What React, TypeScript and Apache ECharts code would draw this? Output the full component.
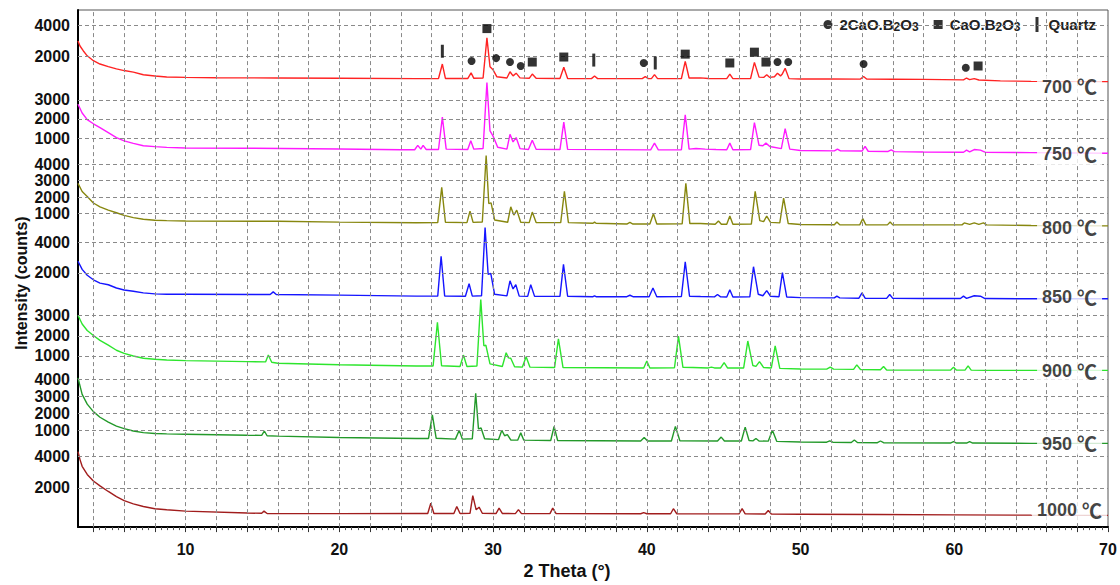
import React, { useEffect, useRef } from "react";
import * as echarts from "echarts";

// ---------- data (2θ in degrees, intensity in counts) ----------
const temperatures = ["700", "750", "800", "850", "900", "950", "1000"];

const t700: [number, number][] = [
  [3, 2990], [3.13, 2665], [3.35, 2340], [3.6, 2020], [4, 1700], [4.43, 1480], [4.97, 1310], [5.5, 1160], [6, 1050], [6.6, 950], [7.25, 775], [8, 690], [8.77, 625], [10, 600], [12, 580], [16, 560], [20, 540], [25, 520],
  [26.45, 525], [26.7, 1480], [26.9, 530], [28.35, 525], [28.57, 900], [28.75, 540],
  [29.35, 560], [29.6, 3200], [29.8, 1300], [30.0, 1100], [30.25, 640],
  [30.9, 560], [31.1, 970], [31.3, 700], [31.5, 880], [31.75, 570], [32.35, 540], [32.55, 820], [32.8, 540],
  [34.35, 530], [34.6, 1270], [34.85, 530], [36.4, 520], [36.6, 690], [36.8, 520],
  [39.7, 520], [39.9, 650], [40.1, 520], [40.3, 520], [40.5, 780], [40.7, 520],
  [42.25, 530], [42.5, 1660], [42.75, 560], [43.5, 570], [44, 530], [45.2, 520], [45.4, 820], [45.6, 520],
  [46.75, 530], [47.0, 1590], [47.3, 620], [47.6, 600], [47.8, 780], [48.0, 600], [48.3, 640], [48.5, 870], [48.7, 700], [48.8, 800], [49.0, 1200], [49.25, 520],
  [50, 500], [52, 500], [53.9, 490], [54.1, 660], [54.3, 490], [56, 480], [58, 470], [60.6, 440], [60.8, 560], [61.0, 450], [61.3, 520], [61.6, 430], [63, 370], [65, 340], [70, 320],
];
const t750: [number, number][] = [
  [3, 2770], [3.27, 2310], [3.6, 1965], [4, 1745], [4.43, 1540], [4.97, 1280], [5.5, 1025], [6, 855], [6.6, 720], [7.25, 600], [8, 550], [8.77, 510], [10, 480], [14, 470], [20, 430], [24, 390],
  [24.9, 390], [25.1, 615], [25.3, 420], [25.45, 615], [25.65, 400],
  [26.45, 400], [26.7, 2090], [26.95, 420], [28.35, 400], [28.55, 855], [28.75, 420],
  [29.35, 450], [29.6, 3900], [29.8, 1370], [30.0, 1100], [30.3, 520],
  [30.9, 420], [31.1, 1195], [31.3, 800], [31.5, 1025], [31.75, 450], [32.3, 400], [32.55, 890], [32.8, 410],
  [34.35, 400], [34.6, 1830], [34.85, 410], [40.25, 380], [40.5, 735], [40.75, 380],
  [42.25, 390], [42.5, 2220], [42.75, 420], [43.2, 450], [43.8, 420], [44.5, 400], [45.2, 390], [45.4, 735], [45.6, 390],
  [46.75, 400], [47.0, 1810], [47.3, 620], [47.55, 600], [47.75, 735], [48.0, 560], [48.75, 450], [49.0, 1490], [49.3, 420],
  [50, 350], [52.2, 330], [52.4, 420], [52.6, 330], [54.0, 320], [54.2, 560], [54.4, 310], [55.7, 300], [55.9, 380], [56.1, 290],
  [58, 270], [60.6, 260], [60.8, 370], [61.0, 280], [61.3, 400], [61.7, 370], [62, 260], [65, 240], [70, 205],
];
const t800: [number, number][] = [
  [3, 2830], [3.27, 2335], [3.6, 2035], [4, 1635], [4.43, 1395], [4.97, 1200], [5.5, 1040], [6, 880], [6.6, 740], [7.25, 640], [8, 580], [8.77, 560], [10, 540], [16, 520], [20, 470], [25, 430],
  [26.4, 440], [26.66, 2590], [26.9, 460], [28.3, 440], [28.5, 1140], [28.7, 450],
  [29.3, 480], [29.55, 4530], [29.72, 1600], [29.87, 1640], [30.1, 600],
  [30.95, 460], [31.15, 1400], [31.35, 900], [31.54, 1200], [31.8, 460], [32.35, 440], [32.55, 1080], [32.8, 440],
  [34.4, 440], [34.64, 2340], [34.9, 440], [36.5, 400], [36.6, 470], [36.7, 400], [38.7, 350], [38.9, 450], [39.1, 350],
  [40.2, 350], [40.43, 980], [40.65, 350], [42.3, 360], [42.54, 2830], [42.8, 380], [43.5, 380],
  [44.45, 340], [44.66, 540], [44.85, 340], [45.2, 340], [45.4, 840], [45.6, 340],
  [46.8, 350], [47.05, 2340], [47.35, 560], [47.6, 500], [47.8, 840], [48.05, 450], [48.65, 420], [48.9, 1930], [49.2, 380],
  [50, 320], [52.2, 310], [52.36, 480], [52.55, 310], [53.85, 300], [54.05, 680], [54.25, 300], [55.65, 300], [55.83, 480], [56.0, 300],
  [58, 300], [60.5, 300], [60.65, 420], [61.0, 330], [61.3, 420], [61.6, 330], [61.9, 420], [62.1, 300], [65, 260], [70, 240],
];
const t850: [number, number][] = [
  [3, 2770], [3.27, 2235], [3.6, 1850], [4, 1550], [4.43, 1335], [4.97, 1225], [5.5, 1010], [6, 880], [6.6, 795], [7.25, 690], [8, 625], [8.77, 600], [10, 600], [15.5, 580], [15.7, 755], [15.9, 580], [20, 540], [25, 480],
  [26.4, 480], [26.62, 3100], [26.85, 490], [28.2, 470], [28.44, 1290], [28.65, 480],
  [29.25, 500], [29.48, 4990], [29.68, 1900], [29.85, 1980], [30.1, 600],
  [30.9, 490], [31.1, 1480], [31.3, 950], [31.48, 1230], [31.7, 480], [32.25, 460], [32.45, 1230], [32.7, 460],
  [34.35, 460], [34.58, 2560], [34.85, 470], [36.5, 440], [36.6, 500], [36.7, 440], [38.7, 440], [38.9, 535], [39.1, 440],
  [40.15, 440], [40.4, 1010], [40.65, 440], [42.25, 450], [42.5, 2730], [42.78, 470], [43.5, 450],
  [44.4, 430], [44.6, 580], [44.8, 430], [45.2, 420], [45.4, 900], [45.6, 420],
  [46.7, 430], [46.94, 2410], [47.25, 600], [47.55, 500], [47.8, 840], [48.05, 470], [48.6, 440], [48.82, 2020], [49.1, 420],
  [50, 380], [52.2, 360], [52.36, 480], [52.55, 360], [53.8, 340], [54.0, 690], [54.2, 340], [55.6, 330], [55.8, 580], [56.0, 330],
  [58, 320], [60.4, 320], [60.6, 480], [60.8, 330], [61.3, 500], [61.7, 470], [62, 320], [65, 300], [70, 300],
];
const t900: [number, number][] = [
  [3, 3020], [3.27, 2585], [3.6, 2260], [4, 2015], [4.43, 1770], [4.97, 1530], [5.5, 1280], [6, 1125], [6.6, 995], [7.25, 880], [8, 830], [8.77, 795], [10, 765], [14, 715], [15.2, 700], [15.38, 1040], [15.6, 680], [16, 635], [20, 560], [25, 500],
  [26.1, 500], [26.38, 2670], [26.65, 510], [27.85, 470], [28.07, 1040], [28.3, 470],
  [28.95, 500], [29.2, 3800], [29.4, 1500], [29.53, 1530], [29.8, 600],
  [30.6, 470], [30.85, 1155], [31.0, 900], [31.15, 880], [31.4, 460], [31.9, 440], [32.15, 960], [32.4, 440],
  [34.0, 420], [34.25, 1850], [34.55, 420], [39.8, 400], [40.0, 750], [40.2, 400],
  [41.8, 410], [42.06, 1980], [42.35, 430], [43, 420], [44.0, 400], [44.2, 440], [44.4, 400], [44.8, 400], [45.03, 670], [45.25, 400],
  [46.3, 400], [46.57, 1740], [46.9, 520], [47.1, 480], [47.33, 715], [47.6, 420], [48.1, 400], [48.35, 1500], [48.65, 380],
  [50, 350], [51.7, 340], [51.93, 440], [52.15, 340], [53.45, 330], [53.66, 550], [53.9, 320], [55.2, 310], [55.4, 470], [55.6, 300],
  [59.75, 290], [59.95, 440], [60.15, 290], [60.7, 290], [60.9, 500], [61.1, 290], [62, 280], [65, 280], [70, 280],
];
const t950: [number, number][] = [
  [3, 4105], [3.27, 3140], [3.6, 2560], [4, 2120], [4.43, 1790], [4.97, 1500], [5.5, 1270], [6, 1115], [6.6, 980], [7.25, 885], [8, 830], [8.77, 810], [10, 790], [14, 730], [14.95, 720], [15.12, 980], [15.3, 700], [16, 675], [20, 600], [25, 540],
  [25.8, 540], [26.05, 1925], [26.3, 550], [27.55, 500], [27.8, 1020], [28.0, 500],
  [28.65, 520], [28.87, 3200], [29.05, 1100], [29.22, 1155], [29.45, 520],
  [30.35, 470], [30.57, 1020], [30.75, 700], [30.93, 770], [31.15, 450], [31.6, 440], [31.8, 870], [32.0, 440],
  [33.75, 420], [33.97, 1250], [34.2, 420], [39.6, 390], [39.83, 600], [40.05, 390],
  [41.6, 390], [41.86, 1250], [42.15, 400], [44.6, 390], [44.84, 620], [45.05, 390],
  [46.15, 390], [46.4, 1210], [46.65, 420], [46.9, 400], [47.1, 540], [47.3, 390], [47.9, 380], [48.17, 1020], [48.45, 370],
  [50, 330], [51.7, 320], [51.9, 400], [52.1, 320], [53.3, 300], [53.5, 445], [53.7, 300], [55.0, 290], [55.2, 390], [55.4, 290],
  [59.75, 270], [59.95, 350], [60.15, 270], [60.8, 270], [61.0, 350], [61.2, 270], [65, 250], [70, 250],
];
const t1000: [number, number][] = [
  [3, 4310], [3.13, 3800], [3.27, 3375], [3.6, 2855], [4, 2440], [4.43, 2125], [4.97, 1770], [5.5, 1440], [6, 1190], [6.6, 980], [7.25, 810], [8, 670], [8.77, 605], [10, 520], [14, 395], [14.95, 380], [15.1, 520], [15.3, 370], [16, 360], [20, 360], [25, 370],
  [25.75, 370], [25.95, 1020], [26.15, 370], [27.45, 370], [27.64, 810], [27.85, 370],
  [28.5, 380], [28.68, 1500], [28.9, 600], [29.09, 770], [29.3, 380],
  [30.2, 370], [30.39, 710], [30.6, 370], [31.45, 360], [31.65, 615], [31.85, 360],
  [33.7, 360], [33.88, 710], [34.1, 360], [39.6, 350], [39.8, 420], [40.0, 350],
  [41.55, 350], [41.73, 670], [41.95, 350], [46.0, 340], [46.2, 670], [46.4, 340],
  [47.7, 330], [47.9, 560], [48.1, 330], [50, 320], [55, 300], [60, 280], [65, 260], [70, 250],
];
const traces = [t700, t750, t800, t850, t900, t950, t1000];

// intensity tick labels of each stacked pattern
const tickLabels = [
  [2000, 4000],
  [1000, 2000, 3000],
  [1000, 2000, 3000, 4000],
  [2000, 4000],
  [1000, 2000, 3000],
  [1000, 2000, 3000, 4000],
  [2000, 4000],
];

// phase markers (2θ, height in counts of the 700 °C pattern)
const phaseC2B: [number, number][] = [
  [28.6, 1680], [30.2, 1870], [31.1, 1610], [31.8, 1350], [39.8, 1550], [48.5, 1610], [49.2, 1610], [54.1, 1480], [60.75, 1230],
];
const phaseCB: [number, number][] = [
  [29.6, 3810], [32.55, 1610], [34.6, 1940], [42.5, 2130], [45.4, 1550], [47.0, 2260], [47.75, 1610], [61.55, 1350],
];
const phaseQuartz: [number, number][] = [[26.7, 2320], [36.55, 1740], [40.55, 1550]];

const xLabelValues = [10, 20, 30, 40, 50, 60, 70];

// ---------- layout / style ----------
const colors = ["#ff2323", "#ff1aff", "#87870f", "#1515ff", "#2de52d", "#23992a", "#a11d1d"];
const panelZero = [449, 377, 303, 228, 154, 81, 8]; // stacked-axis offset of each pattern
const panelScale = [0.0155, 0.0195, 0.0167, 0.0155, 0.0205, 0.0173, 0.016];
const labelLevel = [0, 150, 120, 390, 240, 230, 560];
const LABEL_X = 67.5;

const stack = (i: number, v: number) => panelZero[i] + panelScale[i] * v;

export default function App() {
  const ref = useRef<HTMLDivElement>(null);
  useEffect(() => {
    document.body.style.margin = "0";
    const chart = echarts.init(ref.current!, undefined, { renderer: "svg" });

    const gridX: number[] = [];
    for (let v = 4; v <= 68; v += 2) gridX.push(v);
    const majorTicks: number[] = [];
    for (let v = 4; v <= 70; v += 2) majorTicks.push(v);
    const minorTicks: number[] = [];
    for (let v = 4; v < 70; v += 2) for (let j = 1; j < 5; j++) minorTicks.push(+(v + j * 0.4).toFixed(2));

    const dashed = { color: "#8a8a8a", width: 1, type: [4, 3] as any };
    const hLines: any[] = [];
    tickLabels.forEach((arr, i) =>
      arr.forEach((v) =>
        hLines.push({ yAxis: stack(i, v), label: { formatter: String(v) } })
      )
    );
    const vLines = gridX.map((v) => ({ xAxis: v, label: { show: false } }));

    const font = "'Liberation Sans', Arial, sans-serif";

    const traceSeries = traces.map((t, i) => ({
      type: "line",
      name: temperatures[i],
      data: t.map(([x, y]) => [x, stack(i, y)]),
      showSymbol: false,
      symbol: "none",
      lineStyle: { color: colors[i], width: 1.4 },
      z: 3,
    }));

    const tempLabels = {
      type: "scatter",
      name: "temps",
      z: 6,
      symbolSize: 1,
      itemStyle: { color: "rgba(0,0,0,0)" },
      silent: true,
      data: temperatures.map((t, i) => ({
        value: [LABEL_X, stack(i, labelLevel[i])],
        label: {
          show: true,
          position: "inside",
          formatter: `{n|${t} }{c|℃}`,
          backgroundColor: "#fff",
          padding: [1, 5, 1, 5],
          rich: {
            n: { fontFamily: font, fontWeight: "bold", fontSize: 18, color: "#111" },
            c: { fontFamily: "'Noto Sans CJK SC', sans-serif", fontWeight: "bold", fontSize: 20, color: "#111" },
          },
        },
      })),
    };

    const legendRich = {
      t: { fontFamily: font, fontWeight: "bold", fontSize: 15, color: "#222" },
      s: { fontFamily: font, fontWeight: "bold", fontSize: 12, color: "#222", verticalAlign: "bottom", padding: [4, 0, 0, 0] },
    };

    const option: any = {
      animation: false,
      backgroundColor: "#fff",
      grid: { left: 78, right: 12, top: 10, bottom: 48, show: true, borderColor: "#555", borderWidth: 1, backgroundColor: "transparent" },
      legend: {
        right: 20,
        top: 15,
        itemWidth: 9,
        itemHeight: 15,
        itemGap: 15,
        backgroundColor: "#fff",
        padding: [2, 4],
        data: [
          { name: "2CaO.B2O3", icon: "path://M5,0A5,5 0 1 1 4.99,0Z" },
          { name: "CaO.B2O3", icon: "path://M0,0H10V10H0Z" },
          { name: "Quartz", icon: "path://M0,0H3V15H0Z" },
        ],
        formatter: (n: string) =>
          n === "Quartz" ? `{t|Quartz}` : n === "CaO.B2O3" ? `{t|CaO.B}{s|2}{t|O}{s|3}` : `{t|2CaO.B}{s|2}{t|O}{s|3}`,
        textStyle: { fontFamily: font, fontWeight: "bold", fontSize: 15, color: "#222", rich: legendRich, padding: [0, 0, 0, 2] },
      },
      graphic: [
        {
          type: "text",
          x: 21,
          y: 283,
          rotation: Math.PI / 2,
          style: {
            text: "Intensity (counts)",
            fontFamily: font,
            fontWeight: "bold",
            fontSize: 16,
            fill: "#111",
            textAlign: "center",
            textVerticalAlign: "middle",
          },
        },
      ],
      xAxis: [
        {
          type: "value",
          min: 3,
          max: 70,
          axisLine: { show: true, onZero: false, lineStyle: { color: "#000", width: 2 } },
          axisTick: { show: true, customValues: majorTicks, length: 5, lineStyle: { color: "#333" } },
          axisLabel: { customValues: xLabelValues, fontFamily: font, fontWeight: "bold", fontSize: 16, color: "#111", margin: 14 },
          splitLine: { show: false },
          name: "2 Theta (°)",
          nameLocation: "middle",
          nameGap: 27,
          nameTextStyle: { fontFamily: font, fontWeight: "bold", fontSize: 18, color: "#111", padding: [0, 52, 0, 0] },
        },
        {
          type: "value",
          min: 3,
          max: 70,
          position: "bottom",
          axisLine: { show: false },
          axisTick: { show: true, customValues: minorTicks, length: 3, lineStyle: { color: "#555" } },
          axisLabel: { show: false },
          splitLine: { show: false },
        },
      ],
      yAxis: {
        type: "value",
        min: 0,
        max: 527,
        axisLine: { show: true, lineStyle: { color: "#000", width: 2 } },
        axisTick: { show: false },
        axisLabel: { show: false },
        splitLine: { show: false },
      },
      series: [
        {
          type: "line",
          name: "gridlines",
          data: [],
          z: 1,
          silent: true,
          markLine: {
            silent: true,
            symbol: ["none", "none"],
            animation: false,
            lineStyle: dashed,
            label: {
              show: true,
              position: "start",
              distance: 8,
              fontFamily: font,
              fontWeight: "bold",
              fontSize: 16,
              color: "#111",
            },
            data: [...hLines, ...vLines],
          },
        },
        ...traceSeries,
        {
          type: "scatter",
          name: "2CaO.B2O3",
          symbol: "circle",
          symbolSize: 8,
          itemStyle: { color: "#000" },
          z: 5,
          data: phaseC2B.map(([x, y]) => [x, stack(0, y)]),
        },
        {
          type: "scatter",
          name: "CaO.B2O3",
          symbol: "rect",
          symbolSize: 9,
          itemStyle: { color: "#000" },
          z: 5,
          data: phaseCB.map(([x, y]) => [x, stack(0, y)]),
        },
        {
          type: "scatter",
          name: "Quartz",
          symbol: "rect",
          symbolSize: [3, 13],
          itemStyle: { color: "#000" },
          z: 5,
          data: phaseQuartz.map(([x, y]) => [x, stack(0, y)]),
        },
        tempLabels,
      ],
    };
    chart.setOption(option);
    return () => chart.dispose();
  }, []);
  return <div ref={ref} style={{ width: 1120, height: 585 }} />;
}
